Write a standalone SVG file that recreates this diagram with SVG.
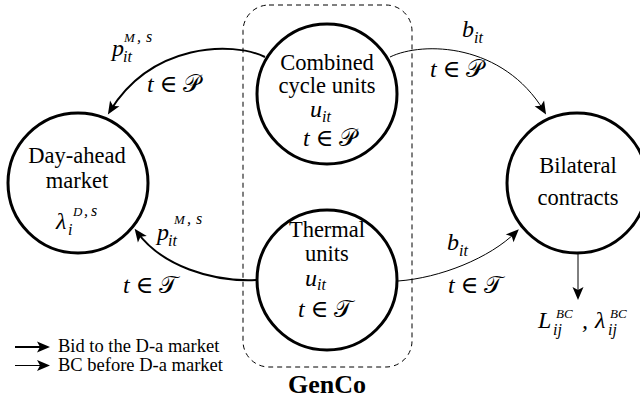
<svg xmlns="http://www.w3.org/2000/svg" width="640" height="403" viewBox="0 0 640 403">
<style>
.node{fill:#fff;stroke:#000;stroke-width:3}
.lbl{font-family:"Liberation Serif","Times New Roman",serif;font-size:22.5px;text-anchor:middle;fill:#000}
.m{font-family:"Liberation Serif","DejaVu Serif",serif;font-style:italic;font-size:24px;fill:#000}
.s{font-size:16px}
.ss{font-size:13px}
.cal{font-family:"DejaVu Sans","DejaVu Serif","Noto Sans",serif;font-style:normal}
.thick{fill:none;stroke:#000;stroke-width:2}
.thin{fill:none;stroke:#000;stroke-width:1}
.leg{font-family:"Liberation Serif","Times New Roman",serif;font-size:18.5px;fill:#000}
</style>
<defs>
<marker id="ah" markerUnits="userSpaceOnUse" viewBox="-10 -6 16 12" markerWidth="16" markerHeight="12" refX="0" refY="0" orient="auto">
<path d="M4,0 L-9,-5.5 L-6,0 L-9,5.5 Z" fill="#000"/>
</marker>
</defs>
<g id="genco">
<rect x="243" y="5" width="169" height="362" rx="26" ry="26" fill="none" stroke="#000" stroke-width="1" stroke-dasharray="5 4"/>
<text x="327" y="393" font-family="Liberation Serif, serif" font-weight="bold" font-size="26" text-anchor="middle">GenCo</text>
</g>
<g id="connectors">
<path class="thick" d="M265,57 C232,41 152,43 110,111" marker-end="url(#ah)"/>
<path class="thin" d="M390,57 C423,41 503,43 544,111" marker-end="url(#ah)"/>
<path class="thick" d="M256,280 C212,282 162,266 137,232" marker-end="url(#ah)"/>
<path class="thin" d="M398,281 C440,278 490,258 516,232" marker-end="url(#ah)"/>
<path class="thin" d="M578,253 L578,296" marker-end="url(#ah)"/>
</g>
<g id="dayahead">
<circle class="node" cx="78" cy="183" r="70"/>
<text class="lbl" x="77" y="163">Day-ahead</text>
<text class="lbl" x="77" y="188">market</text>
<text class="m" x="56" y="229">λ</text>
<text class="m s" x="68" y="235">i</text>
<text class="m ss" x="73" y="216">D</text>
<text class="m s" x="84" y="216">,</text>
<text class="m s" x="91" y="216">s</text>
</g>
<g id="combined">
<circle class="node" cx="327" cy="94" r="70"/>
<text class="lbl" x="327" y="70">Combined</text>
<text class="lbl" x="327" y="93">cycle units</text>
<text class="m" x="310" y="117">u</text>
<text class="m s" x="322" y="122">it</text>
<text class="m" x="303" y="146">t ∈ <tspan class="cal">𝒫</tspan></text>
</g>
<g id="thermal">
<circle class="node" cx="327" cy="280" r="70"/>
<text class="lbl" x="327" y="237">Thermal</text>
<text class="lbl" x="327" y="261">units</text>
<text class="m" x="305" y="286">u</text>
<text class="m s" x="317" y="290">it</text>
<text class="m" x="298" y="317">t ∈ <tspan class="cal">𝒯</tspan></text>
</g>
<g id="bilateral">
<circle class="node" cx="577" cy="183" r="70"/>
<text class="lbl" x="578" y="173">Bilateral</text>
<text class="lbl" x="578" y="205">contracts</text>
</g>
<g id="labels">
<text class="m" x="112" y="56">p</text>
<text class="m s" x="123" y="62">it</text>
<text class="m ss" x="124" y="42">M</text>
<text class="m s" x="137" y="42">,</text>
<text class="m s" x="146" y="42">s</text>
<text class="m" x="147" y="92">t ∈ <tspan class="cal">𝒫</tspan></text>
<text class="m" x="462" y="37">b</text>
<text class="m s" x="474" y="43">it</text>
<text class="m" x="430" y="77">t ∈ <tspan class="cal">𝒫</tspan></text>
<text class="m" x="157" y="240">p</text>
<text class="m s" x="168" y="246">it</text>
<text class="m ss" x="174" y="224">M</text>
<text class="m s" x="187" y="224">,</text>
<text class="m s" x="196" y="224">s</text>
<text class="m" x="123" y="293">t ∈ <tspan class="cal">𝒯</tspan></text>
<text class="m" x="447" y="250">b</text>
<text class="m s" x="459" y="256">it</text>
<text class="m" x="448" y="293">t ∈ <tspan class="cal">𝒯</tspan></text>
<text class="m" x="538" y="328">L</text>
<text class="m s" x="553" y="335">ij</text>
<text class="m ss" x="556" y="318">BC</text>
<text class="m" x="582" y="328">,</text>
<text class="m" x="595" y="328">λ</text>
<text class="m s" x="608" y="335">ij</text>
<text class="m ss" x="610" y="318">BC</text>
</g>
<g id="legend">
<path class="thick" d="M15,347 L46,347" marker-end="url(#ah)"/>
<path class="thin" d="M15,365.5 L46,365.5" marker-end="url(#ah)"/>
<text class="leg" x="58" y="352">Bid to the D-a market</text>
<text class="leg" x="58" y="371">BC before D-a market</text>
</g>
</svg>
